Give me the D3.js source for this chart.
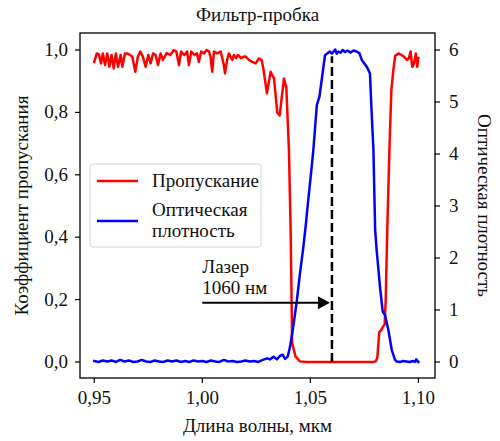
<!DOCTYPE html>
<html>
<head>
<meta charset="utf-8">
<script src="https://cdn.jsdelivr.net/npm/d3@7"></script>
<style>
  html, body { margin: 0; padding: 0; background: #fff; }
  svg text { font-family: "Liberation Serif", "Times New Roman", serif; fill: #111; }
</style>
</head>
<body>
<svg id="chart" width="500" height="441"></svg>
<script>
// Transmission of the notch filter (left axis)
const wavelengthT = [
  0.9500, 0.9512, 0.9522, 0.9531, 0.9540, 0.9550, 0.9560, 0.9570, 0.9580, 0.9590,
  0.9600, 0.9610, 0.9622, 0.9630, 0.9642, 0.9655, 0.9665, 0.9676, 0.9690, 0.9702,
  0.9713, 0.9725, 0.9738, 0.9750, 0.9761, 0.9772, 0.9784, 0.9795, 0.9807, 0.9818,
  0.9835, 0.9852, 0.9868, 0.9880, 0.9892, 0.9902, 0.9917, 0.9930, 0.9938, 0.9949,
  0.9964, 0.9976, 0.9984, 0.9995, 1.0008, 1.0020, 1.0031, 1.0038, 1.0046, 1.0054,
  1.0069, 1.0085, 1.0100, 1.0105, 1.0115, 1.0123, 1.0139, 1.0146, 1.0156, 1.0165,
  1.0179, 1.0193, 1.0201, 1.0216, 1.0231, 1.0247, 1.0262, 1.0275, 1.0285, 1.0299,
  1.0316, 1.0332, 1.0347, 1.0358, 1.0378, 1.0389, 1.0401, 1.0409, 1.0416, 1.0432,
  1.0452, 1.0480, 1.0550, 1.0650, 1.0750, 1.0790, 1.0802, 1.0810, 1.0819, 1.0829,
  1.0836, 1.0844, 1.0849, 1.0856, 1.0866, 1.0875, 1.0885, 1.0893, 1.0910, 1.0933,
  1.0948, 1.0956, 1.0964, 1.0972, 1.0980, 1.0988, 1.0995, 1.1000
];
const transmission = [
  0.962, 0.989, 0.985, 0.957, 0.989, 0.952, 0.989, 0.946, 0.984, 0.941,
  0.989, 0.946, 0.984, 0.946, 0.989, 0.989, 0.984, 0.979, 0.930, 0.979,
  0.995, 0.979, 0.946, 0.984, 0.957, 0.989, 0.984, 0.952, 0.989, 0.968,
  0.990, 0.984, 1.000, 0.995, 0.952, 0.995, 0.984, 0.995, 0.952, 0.995,
  0.984, 0.989, 0.962, 0.995, 0.989, 1.000, 0.995, 0.979, 0.930, 0.995,
  0.989, 0.995, 0.952, 0.925, 0.968, 0.989, 0.968, 0.984, 0.974, 0.984,
  0.974, 0.979, 0.979, 0.968, 0.962, 0.957, 0.973, 0.968, 0.930, 0.861,
  0.930, 0.909, 0.800, 0.790, 0.909, 0.880, 0.680, 0.420, 0.060, 0.017,
  0.002, 0.000, 0.000, 0.000, 0.000, 0.000, 0.002, 0.013, 0.096, 0.103,
  0.113, 0.120, 0.200, 0.420, 0.680, 0.870, 0.940, 0.982, 0.989, 0.979,
  0.968, 0.973, 0.995, 0.946, 0.957, 0.989, 0.946, 0.975
];

// Optical density of the filter (right axis)
const wavelengthOD = [
  0.9500, 0.9520, 0.9540, 0.9560, 0.9580, 0.9600, 0.9620, 0.9640, 0.9660, 0.9680,
  0.9700, 0.9720, 0.9740, 0.9760, 0.9780, 0.9800, 0.9820, 0.9840, 0.9860, 0.9880,
  0.9900, 0.9920, 0.9940, 0.9960, 0.9980, 1.0000, 1.0020, 1.0040, 1.0060, 1.0080,
  1.0100, 1.0120, 1.0140, 1.0160, 1.0180, 1.0200, 1.0220, 1.0240, 1.0260, 1.0280,
  1.0300, 1.0313, 1.0330, 1.0345, 1.0360, 1.0372, 1.0383, 1.0395, 1.0406, 1.0421,
  1.0437, 1.0452, 1.0468, 1.0478, 1.0490, 1.0505, 1.0514, 1.0530, 1.0542, 1.0555,
  1.0568, 1.0580, 1.0591, 1.0600, 1.0615, 1.0622, 1.0630, 1.0640, 1.0650, 1.0660,
  1.0672, 1.0685, 1.0700, 1.0715, 1.0727, 1.0738, 1.0750, 1.0761, 1.0776, 1.0784,
  1.0792, 1.0800, 1.0807, 1.0823, 1.0835, 1.0846, 1.0861, 1.0877, 1.0892, 1.0900,
  1.0915, 1.0930, 1.0945, 1.0960, 1.0975, 1.0985, 1.0990, 1.1000
];
const opticalDensity = [
  0.02, 0.00, 0.03, 0.01, 0.03, 0.00, 0.04, 0.01, 0.03, 0.00,
  0.01, 0.04, 0.01, 0.00, 0.03, 0.01, 0.00, 0.03, 0.01, 0.03,
  0.00, 0.02, 0.00, 0.03, 0.01, 0.02, 0.00, 0.03, 0.01, 0.00,
  0.04, 0.01, 0.02, 0.00, 0.01, 0.03, 0.01, 0.02, 0.00, 0.04,
  0.07, 0.05, 0.10, 0.05, 0.12, 0.14, 0.06, 0.10, 0.29, 0.68,
  1.16, 1.70, 2.22, 2.60, 3.10, 3.70, 4.08, 4.94, 5.10, 5.50,
  5.90, 5.94, 5.97, 5.93, 6.01, 5.93, 5.97, 5.95, 6.00, 5.96,
  5.99, 5.95, 5.99, 5.97, 5.94, 5.81, 5.74, 5.68, 5.55, 4.78,
  4.08, 2.54, 2.15, 1.42, 0.97, 0.90, 0.62, 0.23, 0.04, 0.01,
  0.00, 0.02, 0.01, 0.00, 0.02, 0.00, 0.05, 0.00
];

const xTicks = [0.95, 1.00, 1.05, 1.10];
const leftTicks = [0.0, 0.2, 0.4, 0.6, 0.8, 1.0];
const rightTicks = [0, 1, 2, 3, 4, 5, 6];

const laserWavelength = 1.06;
const laserArrowFrom = 1.00;
const laserArrowLevel = 0.19;
const laserLineTop = 0.98;

const titleText = "Фильтр-пробка";
const xLabel = "Длина волны, мкм";
const yLeftLabel = "Коэффициент пропускания";
const yRightLabel = "Оптическая плотность";
const legendItems = [
  { lines: ["Пропускание"], color: "#ff0000" },
  { lines: ["Оптическая", "плотность"], color: "#0000ff" }
];
const laserLabel = ["Лазер", "1060 нм"];

// ---- layout ----
const svg = d3.select("#chart");
const plot = { left: 80, right: 435, top: 33, bottom: 378 };
const FS = 19;
const comma = s => s.replace(".", ",");

const x = d3.scaleLinear().domain([0.9434, 1.1077]).range([plot.left, plot.right]);
const yL = d3.scaleLinear().domain([-0.0513, 1.0545]).range([plot.bottom, plot.top]);
const yR = d3.scaleLinear().domain([-0.0513 * 6, 1.0545 * 6]).range([plot.bottom, plot.top]);

function label(g, txt, px, py, size, anchor, rotate) {
  return g.append("text")
    .attr("transform", `translate(${px},${py})` + (rotate ? ` rotate(${rotate})` : ""))
    .attr("text-anchor", anchor)
    .style("font-size", size + "px")
    .text(txt);
}

// multi-line text block: one <text>, one <tspan> per line
function block(g, lines, px, py, size, step) {
  const t = g.append("text")
    .attr("transform", `translate(${px},${py})`)
    .style("font-size", size + "px");
  lines.forEach((s, j) => t.append("tspan").attr("x", 0).attr("y", j * step).text(s));
  return t;
}

// curves
const lineT = d3.line().x((d, i) => x(wavelengthT[i])).y(d => yL(d));
const lineOD = d3.line().x((d, i) => x(wavelengthOD[i])).y(d => yR(d));

svg.append("defs").append("clipPath").attr("id", "plotClip")
  .append("rect").attr("x", plot.left).attr("y", plot.top)
  .attr("width", plot.right - plot.left).attr("height", plot.bottom - plot.top);

const body = svg.append("g").attr("clip-path", "url(#plotClip)");

body.append("path").datum(transmission).attr("d", lineT)
  .attr("fill", "none").attr("stroke", "#ff0000").attr("stroke-width", 2.5)
  .attr("stroke-linejoin", "round").attr("stroke-linecap", "square");

body.append("path").datum(opticalDensity).attr("d", lineOD)
  .attr("fill", "none").attr("stroke", "#0000ff").attr("stroke-width", 2.5)
  .attr("stroke-linejoin", "round").attr("stroke-linecap", "square");

// laser line
body.append("line")
  .attr("x1", x(laserWavelength)).attr("x2", x(laserWavelength))
  .attr("y1", yL(0)).attr("y2", yL(laserLineTop))
  .attr("stroke", "#000").attr("stroke-width", 2.5).attr("stroke-dasharray", "9,4");

// arrow
const ay = yL(laserArrowLevel);
const ax0 = x(laserArrowFrom), ax1 = x(laserWavelength) - 2;
svg.append("line").attr("x1", ax0).attr("x2", ax1 - 10).attr("y1", ay).attr("y2", ay)
  .attr("stroke", "#000").attr("stroke-width", 2);
svg.append("path")
  .attr("d", `M${ax1},${ay} L${ax1 - 12},${ay - 6.5} L${ax1 - 12},${ay + 6.5} Z`)
  .attr("fill", "#000");

block(svg.append("g"), laserLabel, ax0, 272.5, FS, 21.5);

// frame
svg.append("rect").attr("x", plot.left).attr("y", plot.top)
  .attr("width", plot.right - plot.left).attr("height", plot.bottom - plot.top)
  .attr("fill", "none").attr("stroke", "#000").attr("stroke-width", 1.3);

// axes
const tickLen = 5;
const axB = svg.append("g");
xTicks.forEach(t => {
  axB.append("line").attr("x1", x(t)).attr("x2", x(t))
    .attr("y1", plot.bottom).attr("y2", plot.bottom + tickLen).attr("stroke", "#000").attr("stroke-width", 1.2);
  label(axB, comma(t.toFixed(2)), x(t), 404, FS, "middle");
});
const axL = svg.append("g");
leftTicks.forEach(t => {
  axL.append("line").attr("x1", plot.left - tickLen).attr("x2", plot.left)
    .attr("y1", yL(t)).attr("y2", yL(t)).attr("stroke", "#000").attr("stroke-width", 1.2);
  label(axL, comma(t.toFixed(1)), plot.left - 12, yL(t) + 6, FS, "end");
});
const axR = svg.append("g");
rightTicks.forEach(t => {
  axR.append("line").attr("x1", plot.right).attr("x2", plot.right + tickLen)
    .attr("y1", yR(t)).attr("y2", yR(t)).attr("stroke", "#000").attr("stroke-width", 1.2);
  label(axR, String(t), plot.right + 14, yR(t) + 6, FS, "start");
});

// titles
label(svg, titleText, (plot.left + plot.right) / 2, 21, FS, "middle");
label(svg, xLabel, (plot.left + plot.right) / 2, 432, FS, "middle");
label(svg, yLeftLabel, 28, (plot.top + plot.bottom) / 2, FS, "middle", -90);
label(svg, yRightLabel, 478, (plot.top + plot.bottom) / 2, FS, "middle", 90);

// legend
const lg = svg.append("g");
lg.append("rect").attr("x", 90).attr("y", 164).attr("width", 171).attr("height", 83)
  .attr("rx", 3).attr("fill", "#fff").attr("fill-opacity", 0.8)
  .attr("stroke", "#d4d4d4").attr("stroke-width", 1);
const legendRows = [{ y: 181, base: 187 }, { y: 221, base: 215.5 }];
legendItems.forEach((it, i) => {
  const r = legendRows[i];
  lg.append("line").attr("x1", 97).attr("x2", 138).attr("y1", r.y).attr("y2", r.y)
    .attr("stroke", it.color).attr("stroke-width", 2.5);
  block(lg, it.lines, 152, r.base, FS, 21.2);
});
</script>
</body>
</html>
